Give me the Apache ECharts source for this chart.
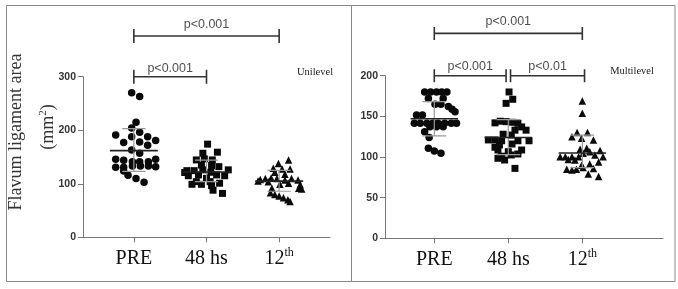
<!DOCTYPE html>
<html><head><meta charset="utf-8">
<script src="https://cdn.jsdelivr.net/npm/echarts@6/dist/echarts.min.js"></script>
<style>html,body{margin:0;padding:0;background:#fff}#c{width:678px;height:289px}</style>
</head><body><div id="c"></div>
<script>
const categories = ['PRE', '48 hs', '12th'];
const panelNotes = ['Unilevel', 'Multilevel'];
const yTitle = 'Flavum ligament area';

// Unilevel (left) points: x jitter offset from category, value
const uniPreOff = [-0.03,0.08,0.03,-0.03,0.08,-0.25,-0.03,0.19,0.30,-0.14,0.08,0.19,-0.03,0.08,-0.25,-0.14,-0.02,0.08,0.20,0.30,-0.25,-0.14,-0.02,0.09,0.20,0.30,-0.14,-0.08,0.03,0.14];
const uniPreVal = [270,263,215,204,196,191,188,188,181,177,178,172,163,157,146,144,141,141,141,146,131,131,133,133,133,132,124,116,110,103];
const uni48Off = [0.015,-0.05,0.15,-0.14,-0.03,0.08,-0.07,0.07,0.17,-0.27,-0.17,-0.05,0.06,0.30,-0.25,-0.11,0.14,0.25,-0.2,-0.07,0.07,0.18,0.09,0.22,0,-0.14,0.05,-0.3];
const uni48Val = [174,157,159,144.5,146.5,144.5,135,134,132,124.5,124.5,126,121.5,126,115,116.5,116.5,115,99,99,96.5,101,88,82,110,104,104,121];
const uni12Off = [0.13,-0.01,-0.08,0.04,0.15,-0.06,0.08,-0.26,-0.19,-0.11,-0.03,0.08,0.17,0.26,-0.29,-0.15,0.01,0.13,0.29,-0.1,0.27,-0.12,-0.06,0,0.06,0.12,0.15,0.31];
const uni12Val = [144.5,138,129,127.6,127.6,121.5,118,108,110,111,110,107,110,107,105,104,99,101,98,91.5,91.5,83,80,77,74,70,67,90];
const uniMean = [162,122,105];
const uniUpper = [203,144,125];
const uniLower = [123,104,86];

// Multilevel (right) points
const mulPreOff = [-0.13,-0.05,0.03,0.10,0.17,-0.08,0.12,0.01,0.09,0.19,0.24,0.28,-0.24,-0.16,-0.27,-0.19,-0.10,-0.02,0.05,0.14,0.23,0.30,-0.06,0.03,0.12,-0.13,-0.07,-0.08,0,0.09];
const mulPreVal = [180,180,180,180,180,172,172,165,165,162,158.6,155.7,151.7,151.7,141.4,141.4,141.4,141.4,141.4,141.4,141.4,141.4,137.3,137.3,137.3,131,124,110.7,107.4,104.5];
const mul48Off = [0.01,0.06,-0.03,-0.18,-0.11,-0.03,0.06,0.13,0.18,0.09,0.24,-0.07,0.04,-0.27,-0.18,-0.09,0.13,0.28,-0.12,0.05,-0.14,0,0.18,-0.09,0.04,0.13,-0.14,-0.05,0.09,-0.18];
const mul48Val = [180,171,166,142,144,143.5,142.7,141.5,137,133,133,128,127,121,121,120,120,120,114.8,116,108.6,106.5,108.6,101,102.5,103.7,98.4,96.3,86,112];
const mul12Off = [0,0,-0.14,-0.07,0.07,0.15,-0.01,-0.03,0.06,-0.30,-0.23,-0.14,-0.05,0.01,0.10,0.17,0.28,-0.10,0.22,-0.01,0.10,-0.21,-0.14,-0.08,0.01,0.15,0.08,0.22,-0.19,0.24];
const mul12Val = [169,153.7,125,130,130,121,123,109.5,110.7,100.4,100.4,100.4,100.4,104.5,106.5,102.5,100.4,96.3,94,90,91.4,85,84,85,87,86,79,76,97,108];
const mulMean = [147,124,105];
const mulUpper = [168,146,127];
const mulLower = [126,103,87];

// significance brackets
const uniBrFrom = [0, 0];
const uniBrTo = [2, 1];
const uniBrY = [376, 300];
const uniBrText = ['p<0.001', 'p<0.001'];
const uniBrTextY = [397, 315];
const mulBrFrom = [0, 0, 1.03];
const mulBrTo = [2, 0.97, 2.03];
const mulBrY = [252, 200, 200];
const mulBrText = ['p<0.001', 'p<0.001', 'p<0.01'];
const mulBrTextY = [266, 211, 211];

const chart = echarts.init(document.getElementById('c'), null, {renderer: 'canvas'});
const axisGrey = '#777';
const serif = '"Liberation Serif", "Times New Roman", serif';
const sans = '"Liberation Sans", Arial, sans-serif';

function xAxisCfg(gi, min, max) {
  return {
    type: 'value', gridIndex: gi, min: min, max: max,
    splitLine: {show: false},
    axisLine: {show: true, onZero: false, lineStyle: {color: axisGrey, width: 1}},
    axisTick: {show: true, customValues: [0,1,2], length: 5, lineStyle: {color: axisGrey}},
    axisLabel: {
      customValues: [0,1,2], margin: 10,
      formatter: v => {
        const c = categories[Math.round(v)];
        if (c === '12th') return '{n|12}{s|th}';
        return '{n|' + c + '}';
      },
      rich: {
        n: {fontFamily: serif, fontSize: 20, color: '#111', lineHeight: 22},
        s: {fontFamily: serif, fontSize: 12, color: '#111', verticalAlign: 'top', lineHeight: 22}
      }
    }
  };
}
function yAxisCfg(gi, max, interval) {
  return {
    type: 'value', gridIndex: gi, min: 0, max: max, interval: interval,
    splitLine: {show: false},
    axisLine: {show: true, onZero: false, lineStyle: {color: axisGrey, width: 1}},
    axisTick: {show: true, length: 5, lineStyle: {color: axisGrey}},
    axisLabel: {fontFamily: sans, fontWeight: 'bold', fontSize: 10.5, color: '#333', margin: 7}
  };
}

const series = [];
function addPoints(gi, cat, offs, vals, symbol, size) {
  series.push({
    type: 'scatter', xAxisIndex: gi, yAxisIndex: gi, symbol: symbol, symbolSize: size,
    itemStyle: {color: '#0a0a0a', opacity: 1}, z: 2, silent: true,
    data: vals.map((v, i) => [cat + offs[i], v])
  });
}
addPoints(0, 0, uniPreOff, uniPreVal, 'circle', 7.5);
addPoints(0, 1, uni48Off, uni48Val, 'rect', 7);
addPoints(0, 2, uni12Off, uni12Val, 'triangle', 7.5);
addPoints(1, 0, mulPreOff, mulPreVal, 'circle', 7.5);
addPoints(1, 1, mul48Off, mul48Val, 'rect', 7);
addPoints(1, 2, mul12Off, mul12Val, 'triangle', 7.5);

function poly(gi, pts, color, width, z) {
  series.push({
    type: 'line', xAxisIndex: gi, yAxisIndex: gi, data: pts, symbol: 'none', clip: false,
    lineStyle: {color: color, width: width}, z: z, silent: true, animation: false
  });
}
function addStats(gi, mean, up, lo, hw, ww) {
  for (let c = 0; c < 3; c++) {
    poly(gi, [[c - ww, up[c]], [c + ww, up[c]], [c, up[c]], [c, lo[c]], [c - ww, lo[c]], [c + ww, lo[c]]], '#9a9a9a', 1.2, 3);
    poly(gi, [[c - hw, mean[c]], [c + hw, mean[c]]], '#222', 1.6, 4);
  }
}
addStats(0, uniMean, uniUpper, uniLower, 0.33, 0.16);
addStats(1, mulMean, mulUpper, mulLower, 0.32, 0.16);

function addBrackets(gi, from, to, ys, h, texts, textYs) {
  for (let i = 0; i < from.length; i++) {
    const y = ys[i];
    poly(gi, [[from[i], y + h], [from[i], y - h], [from[i], y], [to[i], y], [to[i], y + h], [to[i], y - h]], '#333', 1.6, 5);
  }
  series.push({
    type: 'scatter', xAxisIndex: gi, yAxisIndex: gi, symbolSize: 0, clip: false, silent: true,
    data: texts.map((t, i) => ({value: [(from[i] + to[i]) / 2, textYs[i]], name: t})),
    label: {show: true, position: 'inside', formatter: p => p.name, fontFamily: sans, fontSize: 12.5, color: '#222'}
  });
}
addBrackets(0, uniBrFrom, uniBrTo, uniBrY, 13, uniBrText, uniBrTextY);
addBrackets(1, mulBrFrom, mulBrTo, mulBrY, 8, mulBrText, mulBrTextY);

const option = {
  animation: false,
  backgroundColor: '#fff',
  grid: [
    {left: 83, top: 76.7, width: 247, height: 160.6},
    {left: 385, top: 75.7, width: 278, height: 162.6}
  ],
  xAxis: [xAxisCfg(0, -0.7, 2.7), xAxisCfg(1, -0.666, 3.09)],
  yAxis: [yAxisCfg(0, 300, 100), yAxisCfg(1, 200, 50)],
  series: series,
  graphic: [
    {type: 'rect', shape: {x: 6.5, y: 5.5, width: 345, height: 276}, style: {fill: 'none', stroke: '#8a8a8a', lineWidth: 1}, silent: true},
    {type: 'rect', shape: {x: 351.5, y: 5.5, width: 323.5, height: 276}, style: {fill: 'none', stroke: '#8a8a8a', lineWidth: 1}, silent: true},
    {type: 'text', x: 315, y: 72, style: {text: panelNotes[0], fontFamily: serif, fontSize: 10.5, fill: '#222', align: 'center', verticalAlign: 'middle'}},
    {type: 'text', x: 632, y: 71, style: {text: panelNotes[1], fontFamily: serif, fontSize: 10.5, fill: '#222', align: 'center', verticalAlign: 'middle'}},
    {type: 'text', x: 16, y: 132, rotation: Math.PI / 2, style: {text: yTitle, fontFamily: serif, fontSize: 18, fill: '#333', align: 'center', verticalAlign: 'middle'}},
    {type: 'text', x: 48, y: 127, rotation: Math.PI / 2, style: {text: '{a|(mm}{b|2}{a|)}', align: 'center', verticalAlign: 'middle',
      rich: {a: {fontFamily: serif, fontSize: 18, fill: '#333', color: '#333', lineHeight: 20}, b: {fontFamily: serif, fontSize: 11, fill: '#333', color: '#333', verticalAlign: 'top', lineHeight: 20}}}}
  ]
};
chart.setOption(option);
</script>
</body></html>
